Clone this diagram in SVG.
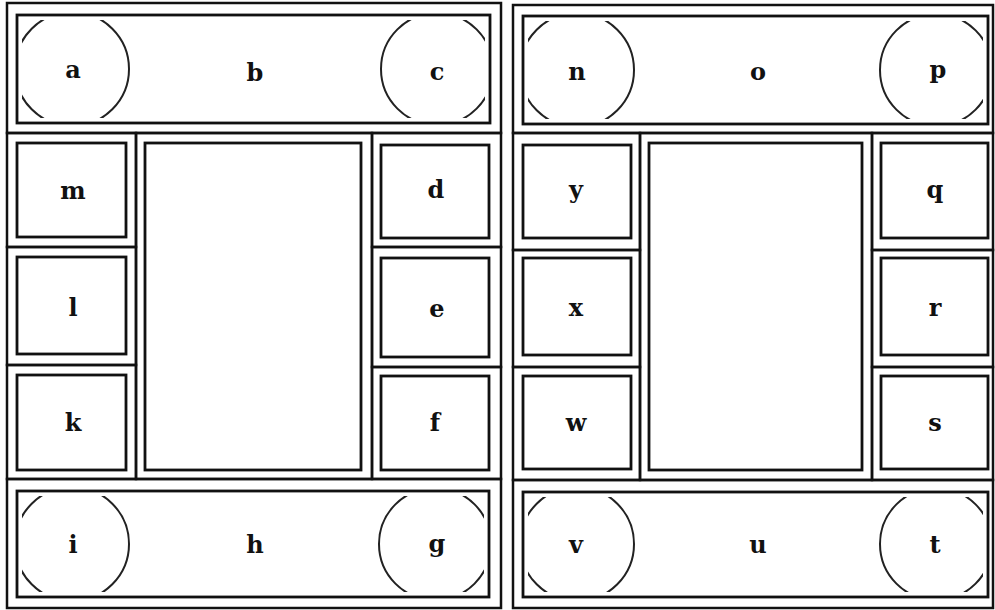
<svg xmlns="http://www.w3.org/2000/svg" width="995" height="610" viewBox="0 0 995 610">
<style>
.o{fill:none;stroke:#111;stroke-width:2.5}
.i{fill:none;stroke:#111;stroke-width:2.8}
.c{fill:none;stroke:#222;stroke-width:2}
.t{font-family:"DejaVu Serif","Liberation Serif",serif;font-size:24px;font-weight:bold;fill:#111;text-anchor:middle}
</style>
<defs>
<clipPath id="clA"><rect x="22" y="20" width="463" height="98"/></clipPath>
<clipPath id="clB"><rect x="22" y="496" width="462" height="96"/></clipPath>
<clipPath id="clC"><rect x="528" y="21" width="455" height="98"/></clipPath>
<clipPath id="clD"><rect x="528" y="497" width="455" height="95"/></clipPath>
</defs>
<rect width="995" height="610" fill="#fff"/>

<g id="panel-left">
<g id="band-abc">
<rect class="o" x="7" y="3" width="494" height="130"/>
<rect class="i" x="17" y="15" width="473" height="108"/>
<g clip-path="url(#clA)">
<circle id="a" class="c" cx="72" cy="69" r="57"/>
<circle id="c" class="c" cx="437" cy="69" r="56"/>
</g>
<text class="t" x="73" y="78">a</text>
<text class="t" x="255" y="81">b</text>
<text class="t" x="437" y="80">c</text>
</g>
<g id="m"><rect class="o" x="7" y="133" width="129" height="114"/><rect class="i" x="17" y="143" width="109" height="94"/><text class="t" x="73" y="199">m</text></g>
<g id="l"><rect class="o" x="7" y="247" width="129" height="118"/><rect class="i" x="17" y="257" width="109" height="97"/><text class="t" x="73" y="316">l</text></g>
<g id="k"><rect class="o" x="7" y="365" width="129" height="114"/><rect class="i" x="17" y="375" width="109" height="95"/><text class="t" x="73" y="431">k</text></g>
<g id="center-left"><rect class="o" x="136" y="133" width="236" height="346"/><rect class="i" x="145" y="143" width="216" height="327"/></g>
<g id="d"><rect class="o" x="372" y="133" width="129" height="114"/><rect class="i" x="381" y="145" width="108" height="93"/><text class="t" x="436" y="198">d</text></g>
<g id="e"><rect class="o" x="372" y="247" width="129" height="120"/><rect class="i" x="381" y="258" width="108" height="99"/><text class="t" x="437" y="317">e</text></g>
<g id="f"><rect class="o" x="372" y="367" width="129" height="112"/><rect class="i" x="381" y="376" width="108" height="94"/><text class="t" x="435" y="431">f</text></g>
<g id="band-ihg">
<rect class="o" x="7" y="479" width="494" height="129"/>
<rect class="i" x="17" y="491" width="472" height="106"/>
<g clip-path="url(#clB)">
<circle id="i" class="c" cx="72" cy="544" r="57"/>
<circle id="g" class="c" cx="435" cy="544" r="56"/>
</g>
<text class="t" x="73" y="553">i</text>
<text class="t" x="255" y="553">h</text>
<text class="t" x="437" y="552">g</text>
</g>
</g>

<g id="panel-right">
<g id="band-nop">
<rect class="o" x="513" y="5" width="480" height="128"/>
<rect class="i" x="523" y="16" width="465" height="108"/>
<g clip-path="url(#clC)">
<circle id="n" class="c" cx="577" cy="70" r="57"/>
<circle id="p" class="c" cx="936" cy="70" r="56"/>
</g>
<text class="t" x="577" y="80">n</text>
<text class="t" x="758" y="80">o</text>
<text class="t" x="938" y="78">p</text>
</g>
<g id="y"><rect class="o" x="513" y="133" width="127" height="117"/><rect class="i" x="523" y="145" width="108" height="93"/><text class="t" x="576" y="198">y</text></g>
<g id="x"><rect class="o" x="513" y="250" width="127" height="117"/><rect class="i" x="523" y="258" width="108" height="97"/><text class="t" x="576" y="316">x</text></g>
<g id="w"><rect class="o" x="513" y="367" width="127" height="113"/><rect class="i" x="523" y="376" width="108" height="93"/><text class="t" x="576" y="431">w</text></g>
<g id="center-right"><rect class="o" x="640" y="133" width="232" height="347"/><rect class="i" x="649" y="143" width="213" height="327"/></g>
<g id="q"><rect class="o" x="872" y="133" width="121" height="117"/><rect class="i" x="881" y="143" width="107" height="95"/><text class="t" x="935" y="198">q</text></g>
<g id="r"><rect class="o" x="872" y="250" width="121" height="117"/><rect class="i" x="881" y="258" width="107" height="97"/><text class="t" x="935" y="316">r</text></g>
<g id="s"><rect class="o" x="872" y="367" width="121" height="113"/><rect class="i" x="881" y="376" width="107" height="93"/><text class="t" x="935" y="431">s</text></g>
<g id="band-vut">
<rect class="o" x="513" y="480" width="480" height="128"/>
<rect class="i" x="523" y="492" width="465" height="105"/>
<g clip-path="url(#clD)">
<circle id="v" class="c" cx="577" cy="544" r="57"/>
<circle id="t" class="c" cx="936" cy="544" r="56"/>
</g>
<text class="t" x="576" y="553">v</text>
<text class="t" x="758" y="553">u</text>
<text class="t" x="935" y="553">t</text>
</g>
</g>
<g id="connectors"/>
</svg>
